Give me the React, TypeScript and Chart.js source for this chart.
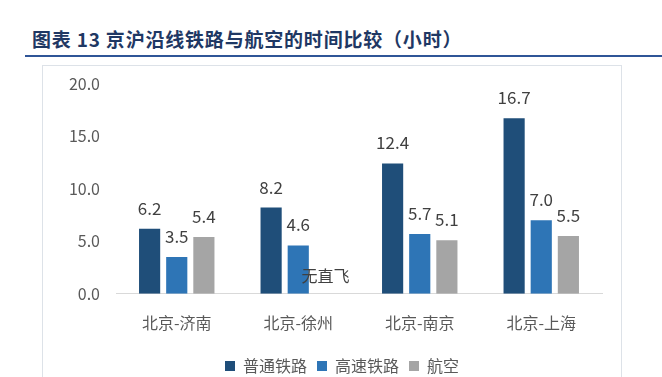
import React, { useEffect, useRef } from "react";
import { Chart, registerables } from "chart.js";

Chart.register(...registerables);

const categories = ["北京-济南", "北京-徐州", "北京-南京", "北京-上海"];
const normalRail = [6.2, 8.2, 12.4, 16.7];
const highSpeedRail = [3.5, 4.6, 5.7, 7.0];
const aviation: (number | null)[] = [5.4, null, 5.1, 5.5];
const seriesNames = ["普通铁路", "高速铁路", "航空"];
const noFlightText = "无直飞";
const titleText = "图表 13 京沪沿线铁路与航空的时间比较（小时）";

const FONT = '"Noto Sans CJK SC", "Noto Sans", sans-serif';

const labelPlugin = {
  id: "valueLabels",
  afterLayout(chart: any) {
    if (chart.legend) {
      chart.legend.left += 20;
      chart.legend.right += 20;
      chart.legend.top += 3;
      chart.legend.bottom += 14;
    }
  },
  afterDatasetsDraw(chart: any) {
    const ctx = chart.ctx;
    ctx.save();
    ctx.font = `17px ${FONT}`;
    ctx.fillStyle = "#404040";
    ctx.textAlign = "center";
    ctx.textBaseline = "alphabetic";
    chart.data.datasets.forEach((ds: any, di: number) => {
      const meta = chart.getDatasetMeta(di);
      meta.data.forEach((el: any, i: number) => {
        const v = ds.data[i];
        if (v === null || v === undefined) return;
        ctx.fillText(Number(v).toFixed(1), el.x, el.y - 14);
      });
    });
    const m1 = chart.getDatasetMeta(1);
    const m2 = chart.getDatasetMeta(2);
    const off = m2.data[0].x - m1.data[0].x;
    const y0 = chart.scales.y.getPixelForValue(0);
    ctx.font = `16px ${FONT}`;
    aviation.forEach((v, i) => {
      if (v === null) {
        ctx.fillText(noFlightText, m1.data[i].x + off, y0 - 12);
      }
    });
    ctx.restore();
  },
};

if (typeof document !== "undefined") {
  document.body.style.margin = "0";
}

export default function App() {
  const ref = useRef<HTMLCanvasElement>(null);
  useEffect(() => {
    document.body.style.margin = "0";
    if (!ref.current) return;
    const chart = new Chart(ref.current, {
      type: "bar",
      data: {
        labels: categories,
        datasets: [
          { label: seriesNames[0], data: normalRail, backgroundColor: "#1f4e79" },
          { label: seriesNames[1], data: highSpeedRail, backgroundColor: "#2e75b6" },
          { label: seriesNames[2], data: aviation, backgroundColor: "#a5a5a5" },
        ],
      },
      options: {
        animation: false,
        responsive: false,
        maintainAspectRatio: false,
        datasets: { bar: { categoryPercentage: 0.67, barPercentage: 0.78 } },
        layout: { padding: { left: 0, right: 20, top: 14, bottom: 0 } },
        plugins: {
          legend: {
            position: "bottom",
            labels: {
              boxWidth: 10,
              boxHeight: 10,
              padding: 10,
              color: "#595959",
              font: { family: FONT, size: 16 },
            },
          },
          tooltip: { enabled: false },
        },
        scales: {
          x: {
            grid: { display: false },
            border: { color: "#d9d9d9", width: 1 },
            ticks: { color: "#595959", font: { family: FONT, size: 16 }, padding: 12 },
          },
          y: {
            min: 0,
            max: 20,
            afterFit: (s: any) => { s.width = 74; },
            grid: { display: false },
            border: { display: false },
            ticks: {
              stepSize: 5,
              color: "#595959",
              padding: 8,
              font: { family: FONT, size: 16 },
              callback: (v: any) => Number(v).toFixed(1),
            },
          },
        },
      },
      plugins: [labelPlugin],
    });
    return () => chart.destroy();
  }, []);

  return (
    <div style={{ position: "relative", width: 662, height: 377, overflow: "hidden", background: "#fff" }}>
      <div
        style={{
          position: "absolute",
          left: 32,
          top: 25,
          fontFamily: FONT,
          fontWeight: 700,
          fontSize: 19,
          letterSpacing: 0.8,
          color: "#1f3864",
          whiteSpace: "pre",
        }}
      >
        {titleText}
      </div>
      <div style={{ position: "absolute", left: 25, top: 55, width: 637, height: 2, background: "#2f5597" }} />
      <div
        style={{
          position: "absolute",
          left: 42,
          top: 65,
          width: 580,
          height: 340,
          border: "1px solid #dde2e8",
          boxSizing: "border-box",
        }}
      />
      <canvas ref={ref} width={580} height={315} style={{ position: "absolute", left: 42, top: 66, width: 580, height: 315 }} />
    </div>
  );
}
